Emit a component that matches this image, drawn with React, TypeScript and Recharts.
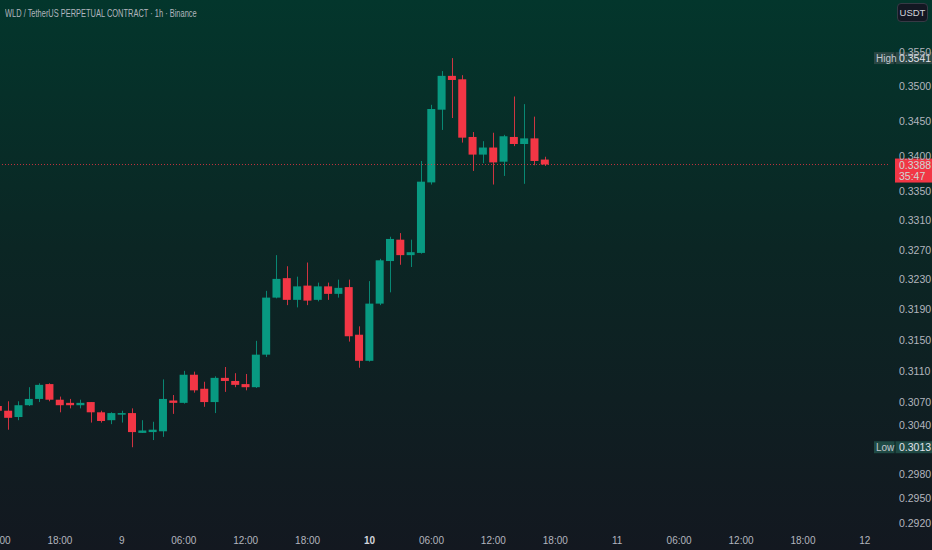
import { Bar, ComposedChart, ReferenceLine, XAxis, YAxis } from "recharts";

// WLD/USDT perpetual, 1h candles from 8th 12:00 to 10th 17:00
const startHour = 0;
const opens = [
  0.3065, 0.3059, 0.3051, 0.3066, 0.3074, 0.3093, 0.3073, 0.3069, 0.3066, 0.307,
  0.3057, 0.3047, 0.3054, 0.3056, 0.3031, 0.3032, 0.3033, 0.3072, 0.3069, 0.3105,
  0.3087, 0.307, 0.3101, 0.3097, 0.3093, 0.3089, 0.3131, 0.3206, 0.3232, 0.3203,
  0.3222, 0.3203, 0.3221, 0.3211, 0.322, 0.3157, 0.3123, 0.3198, 0.3255, 0.3284,
  0.3263, 0.3266, 0.3363, 0.3466, 0.3515, 0.351, 0.3427, 0.3402, 0.3412, 0.3392,
  0.3427, 0.3417, 0.3425, 0.3395,
];
const highs = [
  0.3068, 0.3071, 0.3071, 0.3089, 0.3094, 0.3094, 0.3077, 0.3074, 0.3073, 0.307,
  0.3059, 0.3057, 0.3059, 0.3062, 0.3047, 0.3045, 0.3099, 0.3079, 0.311, 0.3109,
  0.3096, 0.3103, 0.3115, 0.3107, 0.3106, 0.3149, 0.3215, 0.3263, 0.3248, 0.3234,
  0.3253, 0.3226, 0.3226, 0.323, 0.323, 0.3168, 0.3228, 0.3258, 0.3288, 0.3293,
  0.3284, 0.3393, 0.3473, 0.3522, 0.3541, 0.3516, 0.3434, 0.3421, 0.3433, 0.343,
  0.3485, 0.3474, 0.3456, 0.3399,
];
const lows = [
  0.3056, 0.3035, 0.3047, 0.3065, 0.307, 0.3071, 0.3057, 0.3062, 0.3062, 0.3044,
  0.3044, 0.3042, 0.3044, 0.3013, 0.3031, 0.3022, 0.3026, 0.3055, 0.3068, 0.3082,
  0.3064, 0.3056, 0.3083, 0.3089, 0.3085, 0.3088, 0.3128, 0.3205, 0.3196, 0.3193,
  0.3196, 0.3201, 0.3203, 0.3206, 0.3148, 0.3114, 0.3122, 0.3196, 0.3213, 0.325,
  0.3247, 0.3265, 0.336, 0.3437, 0.3454, 0.3419, 0.3379, 0.339, 0.336, 0.3372,
  0.3414, 0.3361, 0.3387, 0.3386,
];
const closes = [
  0.3059, 0.305, 0.3066, 0.3074, 0.3092, 0.3073, 0.3066, 0.3066, 0.3069, 0.3057,
  0.3046, 0.3056, 0.3056, 0.3032, 0.3034, 0.3035, 0.3074, 0.3069, 0.3105, 0.3085,
  0.307, 0.3101, 0.3097, 0.3092, 0.3089, 0.3131, 0.3206, 0.3231, 0.3203, 0.3221,
  0.3202, 0.3221, 0.3211, 0.3219, 0.3155, 0.3123, 0.3198, 0.3256, 0.3285, 0.3263,
  0.3267, 0.3364, 0.3467, 0.3515, 0.3509, 0.3426, 0.3402, 0.3412, 0.3391, 0.3428,
  0.3417, 0.3425, 0.3393, 0.3388,
];

const priceTicks = [
  0.292, 0.295, 0.298, 0.304, 0.307, 0.311, 0.315, 0.319, 0.323, 0.327, 0.331,
  0.335, 0.34, 0.345, 0.35, 0.355,
];
const timeTicks = [0, 6, 12, 18, 24, 30, 36, 42, 48, 54, 60, 66, 72, 78, 84];
const timeLabels = [
  "12:00", "18:00", "9", "06:00", "12:00", "18:00", "10", "06:00", "12:00",
  "18:00", "11", "06:00", "12:00", "18:00", "12",
];

const lastPrice = 0.3388;
const countdown = "35:47";
const highPrice = 0.3541;
const lowPrice = 0.3013;

const UP = "#089981";
const DOWN = "#F23645";
const TEXT = "#b2b5be";
const FONT = "'Liberation Sans Narrow', 'Liberation Sans', Roboto, sans-serif";

const data = opens.map((open, i) => ({
  hour: startHour + i,
  open,
  high: highs[i],
  low: lows[i],
  close: closes[i],
  range: [lows[i], highs[i]],
}));

function Candle(props: any) {
  const { x, y, width, height, payload } = props;
  if (x == null || y == null) return null;
  const top = Math.min(y, y + height);
  const h = Math.abs(height);
  const { open, close, high, low } = payload;
  const span = Math.log(high) - Math.log(low);
  const py = (v: number) => (span > 0 ? top + (h * (Math.log(high) - Math.log(v))) / span : top);
  const color = close >= open ? UP : DOWN;
  const bodyTop = py(Math.max(open, close));
  const bodyBottom = py(Math.min(open, close));
  const cx = Math.round(x + width / 2) + 0.5;
  return (
    <g>
      <line x1={cx} x2={cx} y1={top} y2={top + h} stroke={color} strokeOpacity={0.85} strokeWidth={1} />
      <rect x={x} y={bodyTop} width={width} height={Math.max(1, bodyBottom - bodyTop)} fill={color} />
    </g>
  );
}

function TimeTick(props: any) {
  const { x, y, payload } = props;
  const label = timeLabels[timeTicks.indexOf(payload.value)] ?? "";
  const today = label === "10";
  return (
    <text
      x={x}
      y={y}
      dy="0.71em"
      textAnchor="middle"
      fill={today ? "#d1d4dc" : TEXT}
      fontSize={10}
      fontWeight={today ? 700 : 400}
      fontFamily={FONT}
    >
      {label}
    </text>
  );
}

function MarkerLabel({ viewBox, name, value, bg }: any) {
  if (!viewBox) return null;
  const right = viewBox.x + viewBox.width;
  const cy = viewBox.y;
  return (
    <g>
      <rect x={right - 14} y={cy - 6} width={58} height={12} fill={bg} />
      <line x1={right + 7} x2={right + 7} y1={cy - 6} y2={cy + 6} stroke="#0d1f1f" strokeWidth={1} />
      <text x={right - 12} y={cy + 3.5} fill="#c3c7cf" fontSize={10} fontFamily={FONT}>
        {name}
      </text>
      <text x={right + 11} y={cy + 3.5} fill="#e0e3eb" fontSize={10.5} fontFamily={FONT}>
        {value.toFixed(4)}
      </text>
    </g>
  );
}

function PriceLabel({ viewBox }: any) {
  if (!viewBox) return null;
  const right = viewBox.x + viewBox.width;
  const cy = viewBox.y;
  return (
    <g>
      <rect x={right + 7} y={cy - 6} width={37} height={24} fill={DOWN} />
      <text x={right + 11} y={cy + 4} fill="#cfd8d6" fontSize={10.5} fontFamily={FONT}>
        {lastPrice.toFixed(4)}
      </text>
      <text x={right + 11} y={cy + 15.5} fill="#cfd8d6" fontSize={10.5} fontFamily={FONT}>
        {countdown}
      </text>
    </g>
  );
}

export default function App() {
  return (
    <div
      style={{
        position: "absolute",
        left: 0,
        top: 0,
        width: 932,
        height: 550,
        overflow: "hidden",
        background: "linear-gradient(180deg, #03362c 0%, #0b2624 45%, #131820 100%)",
        fontFamily: FONT,
      }}
    >
      <div style={{ position: "absolute", left: -2, top: 0 }}>
        <ComposedChart width={934} height={550} data={data} margin={{ top: 0, right: 0, left: 0, bottom: 0 }}>
          <XAxis
            dataKey="hour"
            type="number"
            domain={[0, 86.24]}
            ticks={timeTicks}
            interval={0}
            tick={<TimeTick />}
            tickLine={false}
            axisLine={false}
            tickSize={0}
            tickMargin={9}
            height={22}
            allowDataOverflow
          />
          <YAxis
            orientation="right"
            type="number"
            scale="log"
            domain={[0.29137, 0.36274]}
            allowDataOverflow
            ticks={priceTicks}
            interval={0}
            tickFormatter={(v: number) => v.toFixed(4)}
            tick={{ fill: TEXT, fontSize: 10.5, fontFamily: FONT }}
            tickLine={false}
            axisLine={false}
            tickSize={0}
            tickMargin={11}
            width={44}
          />
          <ReferenceLine y={lastPrice} stroke={DOWN} strokeOpacity={0.8} strokeDasharray="1 2" label={<PriceLabel />} />
          <Bar dataKey="range" barSize={8} shape={<Candle />} isAnimationActive={false} />
          <ReferenceLine
            y={highPrice}
            stroke="none"
            label={<MarkerLabel name="High" value={highPrice} bg="#2a4744" />}
          />
          <ReferenceLine
            y={lowPrice}
            stroke="none"
            label={<MarkerLabel name="Low" value={lowPrice} bg="#1f4a44" />}
          />
        </ComposedChart>
      </div>
      <div
        style={{
          position: "absolute",
          left: 5,
          top: 6,
          color: TEXT,
          fontSize: 10.5,
          lineHeight: "14px",
          whiteSpace: "nowrap",
          transform: "scaleX(0.71)",
          transformOrigin: "0 0",
        }}
      >
        WLD / TetherUS PERPETUAL CONTRACT · 1h · Binance
      </div>
      <div
        style={{
          position: "absolute",
          left: 897,
          top: 3,
          width: 31,
          height: 19,
          boxSizing: "border-box",
          border: "1px solid #363a45",
          borderRadius: 4,
          background: "#131722",
          color: "#d1d4dc",
          fontSize: 9.5,
          lineHeight: "17px",
          textAlign: "center",
        }}
      >
        USDT
      </div>
    </div>
  );
}
